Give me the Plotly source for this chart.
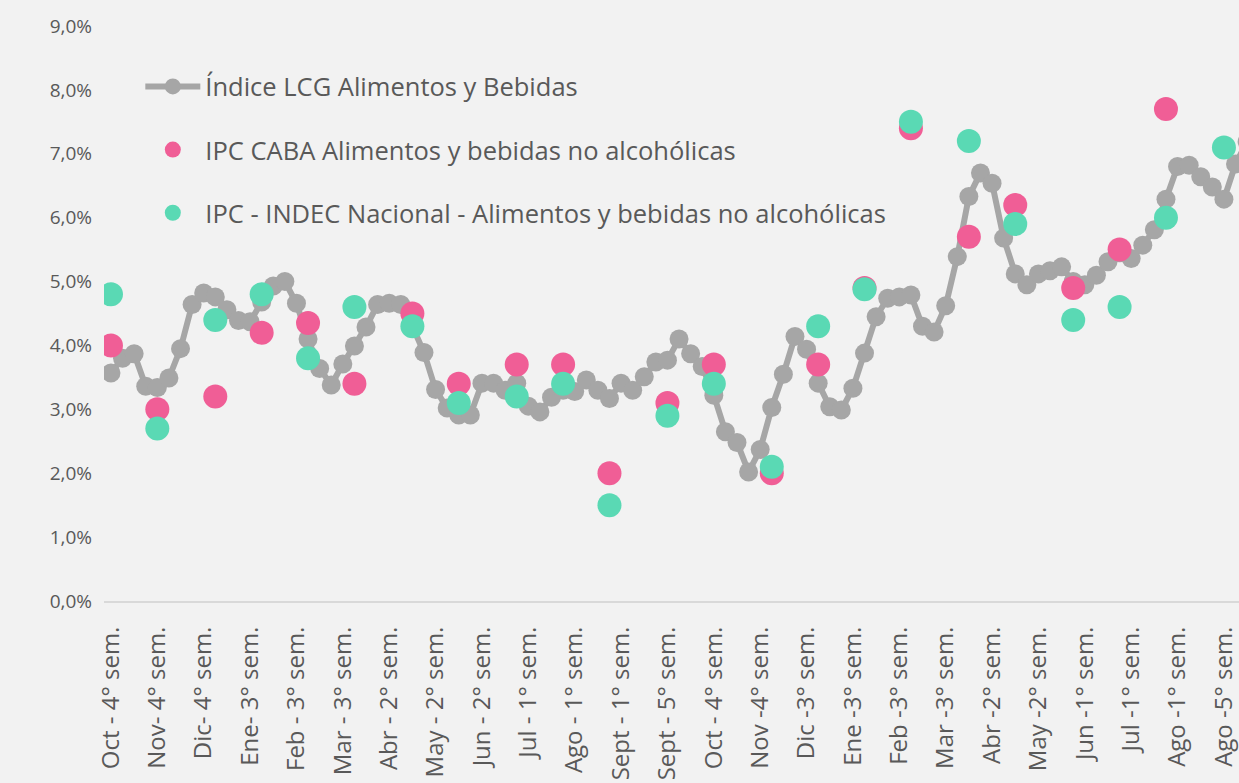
import plotly.graph_objects as go

# etiquetas del eje x (una cada 4 semanas)
etiquetas = ["Oct - 4° sem.", "Nov- 4° sem.", "Dic- 4° sem.", "Ene- 3° sem.", "Feb - 3° sem.",
             "Mar - 3° sem.", "Abr - 2° sem.", "May - 2° sem.", "Jun - 2° sem.", "Jul - 1° sem.",
             "Ago - 1° sem.", "Sept - 1° sem.", "Sept - 5° sem.", "Oct - 4° sem.", "Nov -4° sem.",
             "Dic -3° sem.", "Ene -3° sem.", "Feb -3° sem.", "Mar -3° sem.", "Abr -2° sem.",
             "May -2° sem.", "Jun -1° sem.", "Jul -1° sem.", "Ago -1° sem.", "Ago -5° sem."]

# Indice LCG semanal (%)
lcg = [3.57, 3.80, 3.87, 3.36, 3.34, 3.49, 3.95, 4.64, 4.82, 4.76,
       4.56, 4.39, 4.37, 4.68, 4.93, 5.00, 4.66, 4.10, 3.64, 3.38,
       3.71, 3.99, 4.29, 4.64, 4.66, 4.64, 4.30, 3.89, 3.31, 3.02,
       2.91, 2.91, 3.41, 3.41, 3.30, 3.41, 3.05, 2.96, 3.19, 3.30,
       3.28, 3.46, 3.30, 3.17, 3.41, 3.30, 3.51, 3.74, 3.77, 4.10,
       3.87, 3.67, 3.22, 2.65, 2.48, 2.02, 2.37, 3.03, 3.55, 4.14,
       3.94, 3.41, 3.04, 2.99, 3.33, 3.88, 4.45, 4.74, 4.76, 4.79,
       4.30, 4.21, 4.62, 5.39, 6.33, 6.70, 6.54, 5.68, 5.12, 4.95,
       5.12, 5.17, 5.23, 5.00, 4.95, 5.10, 5.31, 5.45, 5.36, 5.57,
       5.81, 6.29, 6.80, 6.82, 6.64, 6.48, 6.29, 6.84, 7.19]

# semana en que cae cada dato mensual
mes_idx = [0, 4, 9, 13, 17, 21, 26, 30, 35, 39, 43, 48, 52, 57, 61, 65, 69, 74, 78, 83, 87, 91, 96]

ipc_caba = [4.0, 3.0, 3.2, 4.2, 4.35, 3.4, 4.5, 3.4, 3.7, 3.7, 2.0, 3.1, 3.7, 2.0, 3.7, 4.9,
            7.4, 5.7, 6.2, 4.9, 5.5, 7.7, None]
ipc_indec = [4.8, 2.7, 4.4, 4.8, 3.8, 4.6, 4.3, 3.1, 3.2, 3.4, 1.5, 2.9, 3.4, 2.1, 4.3, 4.88,
             7.5, 7.2, 5.9, 4.4, 4.6, 6.0, 7.1]

semanas = list(range(len(lcg)))
fuente = "Open Sans"
gris_txt = "#595959"
fondo = "#F2F2F2"

fig = go.Figure()

fig.add_trace(go.Scatter(x=semanas, y=lcg, mode="lines+markers",
                         name="Índice LCG Alimentos y Bebidas",
                         line=dict(color="#A6A6A6", width=6),
                         marker=dict(color="#A6A6A6", size=19),
                         legendgroup="a"))

fig.add_trace(go.Scatter(x=mes_idx, y=ipc_caba, mode="markers",
                         name="IPC CABA Alimentos y bebidas no alcohólicas",
                         marker=dict(color="#F05E96", size=24),
                         legendgroup="b"))

fig.add_trace(go.Scatter(x=mes_idx, y=ipc_indec, mode="markers",
                         name="IPC - INDEC Nacional - Alimentos y bebidas no alcohólicas",
                         marker=dict(color="#5AD9B4", size=24),
                         legendgroup="c"))

fig.update_layout(
    width=1239, height=783,
    margin=dict(l=104, r=0, t=26, b=182),
    paper_bgcolor=fondo, plot_bgcolor=fondo,
    separators=",.",
    font=dict(family=fuente, color=gris_txt, size=19),
    showlegend=True,
    legend=dict(x=0.032, y=0.935, xanchor="left", yanchor="top",
                bgcolor="rgba(0,0,0,0)", font=dict(size=25.5, color=gris_txt),
                itemwidth=55, tracegroupgap=27),
)

fig.update_xaxes(range=[-0.6, 97.3], tickmode="array",
                 tickvals=semanas[::4], ticktext=etiquetas,
                 tickangle=-90, tickfont=dict(size=24),
                 ticklabeloverflow="allow",
                 showgrid=False, zeroline=False,
                 showline=True, linecolor="#D9D9D9", linewidth=2,
                 ticks="", ticklabelstandoff=14)

fig.update_yaxes(range=[0, 9], dtick=1, tickformat=".1f", ticksuffix="%",
                 tickfont=dict(size=19),
                 showgrid=False, zeroline=False, showline=False,
                 ticks="", ticklabelstandoff=11)

# sin margen del body para que el grafico ocupe toda la ventana
fig.write_html("out.html", config={"displayModeBar": False},
               post_script="document.body.style.margin='0';"
                           "document.body.style.background='%s';" % fondo)
